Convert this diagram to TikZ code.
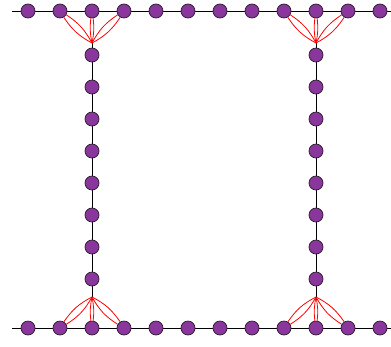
\documentclass[tikz,border=0pt]{standalone}
\definecolor{nodefill}{RGB}{138,54,156}
\definecolor{nodeline}{RGB}{40,30,45}
\tikzset{
  dot/.style={circle,draw=nodeline,fill=nodefill,line width=0.7pt,minimum size=14pt,inner sep=0pt},
  wire/.style={draw=black,line width=0.8pt},
  link/.style={draw=red,line width=0.8pt},
}
\begin{document}
\begin{tikzpicture}[x=1pt,y=-1pt]
\useasboundingbox (0,0) rectangle (391,346);
% top and bottom rows
\coordinate (tl) at (12,11);
\coordinate (tr) at (391,11);
\coordinate (bl) at (12,328);
\coordinate (br) at (391,328);
\draw[wire] (tl) -- (tr);
\draw[wire] (bl) -- (br);
% junctions
\coordinate (jtl) at (92,43);
\coordinate (jtr) at (316,43);
\coordinate (jbl) at (92,297);
\coordinate (jbr) at (316,297);
\draw[wire] (jtl) -- (jbl);
\draw[wire] (jtr) -- (jbr);
\foreach \i in {1,...,12}{
  \node[dot] (t\i) at ({28+32*(\i-1)},11) {};
  \node[dot] (b\i) at ({28+32*(\i-1)},328) {};
}
\foreach \k in {1,...,8}{
  \node[dot] (l\k) at (92,{55+32*(\k-1)}) {};
  \node[dot] (r\k) at (316,{55+32*(\k-1)}) {};
}
% red links
\foreach \j/\a/\b/\c in {jtl/t2/t3/t4, jtr/t9/t10/t11, jbl/b2/b3/b4, jbr/b9/b10/b11}{
  \draw[link] (\j) to[bend left=14] (\a);
  \draw[link] (\j) to[bend right=14] (\a);
  \draw[link] (\j) to[bend left=9] (\b);
  \draw[link] (\j) to[bend right=9] (\b);
  \draw[link] (\j) to[bend left=14] (\c);
  \draw[link] (\j) to[bend right=14] (\c);
}
\end{tikzpicture}
\end{document}
